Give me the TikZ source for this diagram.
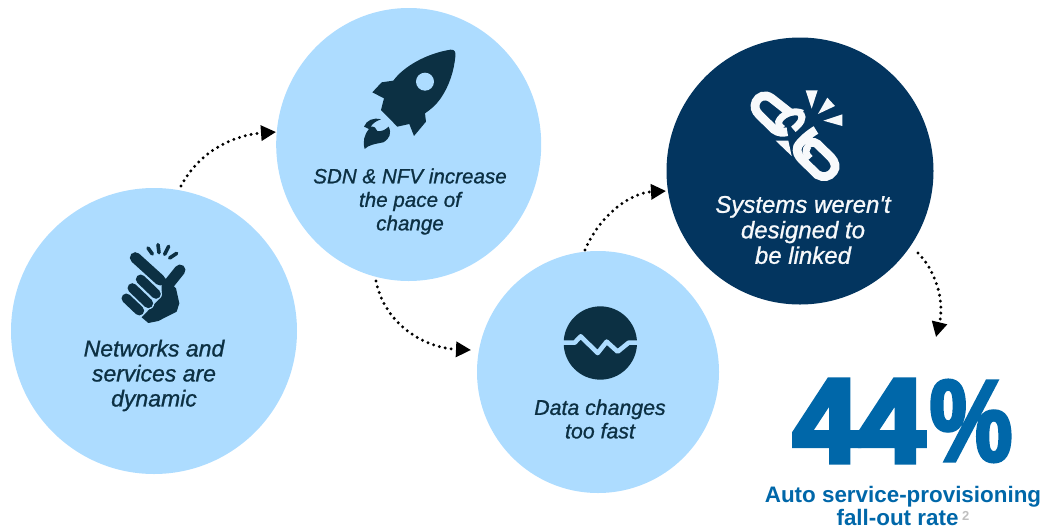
\documentclass[tikz,border=0pt]{standalone}
\usepackage{fontspec}
\setmainfont{Liberation Sans}
\newfontfamily\bigfont[FakeBold=5]{Liberation Sans Bold}
\newfontfamily\pctfont[FakeBold=3,FakeStretch=0.8]{Liberation Sans Bold}
\newfontfamily\capfont[FakeBold=1]{Liberation Sans Italic}
\usetikzlibrary{arrows.meta,shapes.geometric}
\definecolor{lightc}{HTML}{ADDCFF}
\definecolor{darkc}{HTML}{03355F}
\definecolor{inkc}{HTML}{0C3043}
\definecolor{bluec}{HTML}{0067A9}
\definecolor{whitec}{HTML}{F7F9FB}
\tikzset{
 x=1pt,y=-1pt,
 bubble/.style={circle,draw=none,inner sep=0pt,fill=lightc},
 darkbubble/.style={circle,draw=none,inner sep=0pt,fill=darkc},
 captext/.style={text=inkc,align=center},
 dotarrow/.style={line width=3.3pt,line cap=round,dash pattern=on 0pt off 6pt,black,-{Triangle[length=15pt,width=15pt,line cap=butt]}},
 icon/.style={x=0.3333pt,y=-0.3333pt},
}
\begin{document}
\begin{tikzpicture}
\useasboundingbox (0,0) rectangle (1045,531);
\node[bubble,minimum size=286pt] (c1) at (154,331) {};
\node[ellipse,draw=none,inner sep=0pt,fill=lightc,minimum width=265pt,minimum height=273pt] (c2) at (408.7,144.5) {};
\node[bubble,minimum size=242pt] (c3) at (598,372) {};
\node[darkbubble,minimum size=267pt] (c4) at (800,171) {};
% connectors
\coordinate (a1) at (181,186);
\coordinate (a2) at (276,132);
\coordinate (a3) at (376,281);
\coordinate (a4) at (471,350);
\coordinate (a5) at (585,250);
\coordinate (a6) at (666,191);
\coordinate (a7) at (918,253);
\coordinate (a8) at (936,337);
\draw[dotarrow] (a1) .. controls (200,150) and (235,135) .. (a2);
\draw[dotarrow] (a3) .. controls (385,325) and (425,348) .. (a4);
\draw[dotarrow] (a5) .. controls (600,215) and (630,193) .. (a6);
\draw[dotarrow] (a7) .. controls (935,270) and (945,300) .. (a8);
% hand
\begin{scope}[icon,shift={(80pt,-220pt)}]
\fill[inkc] (245,165) -- (288,205) -- (298,250) -- (290,275) -- (235,303) -- (205,309) -- (185,292) -- (235,240) -- (245,215) -- cycle;
\draw[inkc,line width=11pt,line cap=round] (166,113) -- (240,180);
\draw[inkc,line width=11pt,line cap=round] (300,150) -- (268,190);
\draw[lightc,line width=12pt,line cap=round] (182,178) -- (228,222);
\draw[lightc,line width=12pt,line cap=round] (157,204) -- (205,250);
\draw[lightc,line width=12pt,line cap=round] (139,235) -- (178,272);
\draw[inkc,line width=9.6pt,line cap=round] (182,178) -- (228,222);
\draw[inkc,line width=9.6pt,line cap=round] (157,204) -- (205,250);
\draw[inkc,line width=9.6pt,line cap=round] (139,235) -- (178,272);
\draw[inkc,line width=3.6pt,line cap=round] (204,84) -- (217,102);
\draw[inkc,line width=3.6pt,line cap=round] (234,74) -- (237,98);
\draw[inkc,line width=3.6pt,line cap=round] (266,79) -- (254,103);
\draw[inkc,line width=3.6pt,line cap=round] (290,100) -- (269,114);
\end{scope}
% rocket
\begin{scope}[icon,shift={(340pt,-30pt)}]
\fill[inkc] (332,59) .. controls (345,58) and (348,68) .. (346,80) .. controls (342,120) and (330,165) .. (300,208) .. controls (288,225) and (270,240) .. (255,250) -- (258,275) -- (222,318) -- (208,282) -- (172,290) -- (123,240) -- (132,205) -- (97,187) -- (125,157) -- (160,152) .. controls (190,110) and (260,70) .. (332,59) -- cycle;
\fill[lightc] (255,155) circle[radius=27];
\fill[inkc] (72,290) .. controls (80,270) and (100,262) .. (123,268) .. controls (110,272) and (98,280) .. (92,290) .. controls (102,288) and (110,295) .. (112,303) .. controls (125,305) and (135,300) .. (146,290) .. controls (155,310) and (150,325) .. (130,337) .. controls (105,342) and (85,345) .. (74,357) .. controls (68,335) and (72,315) .. (87,297) -- cycle;
\end{scope}
% wave globe
\begin{scope}[icon,shift={(550pt,-295pt)}]
\fill[inkc] (151,144) circle[radius=110];
\draw[lightc,line width=4.6pt,line join=round] (36,143) -- (74,143) -- (92,124) -- (143,174) -- (170,140) -- (203,170) -- (236,143) -- (266,143);
\end{scope}
% link
\begin{scope}[icon,shift={(730pt,-80pt)}]
\fill[whitec] (227,31) -- (263,31) -- (245,86) -- cycle;
\fill[whitec] (292,53) -- (315,78) -- (264,102) -- cycle;
\fill[whitec] (280,122) -- (337,103) -- (337,138) -- cycle;
\fill[whitec] (137,182) -- (175,182) -- (185,228) -- cycle;
\draw[whitec,line width=8.8pt,line cap=butt] (182,100) -- (125,55) .. controls (105,40) and (85,50) .. (78,65) .. controls (72,80) and (75,92) .. (88,105) -- (132,148) .. controls (145,158) and (160,158) .. (172,155);
\draw[whitec,line width=7pt] (218,100) .. controls (195,90) and (165,98) .. (150,118) .. controls (142,128) and (146,138) .. (158,146);
\draw[whitec,line width=7pt] (212,100) .. controls (222,115) and (212,130) .. (190,148);
\draw[whitec,line width=8.8pt] (258,150) .. controls (240,160) and (210,185) .. (203,200) .. controls (198,215) and (205,228) .. (215,238) -- (262,284) .. controls (280,295) and (300,290) .. (310,275) .. controls (320,262) and (315,245) .. (303,232) -- (262,192) .. controls (250,182) and (235,188) .. (228,195);
\draw[whitec,line width=7pt] (240,235) .. controls (225,222) and (225,210) .. (235,198);
\end{scope}
% captions
\node[captext,font=\capfont\fontsize{23}{25}\selectfont] (t1) at (154,375.5) {Networks and\\services are\\dynamic};
\node[captext,font=\capfont\fontsize{20.6}{23.5}\selectfont] (t2) at (410,201.5) {SDN \& NFV increase\\the pace of\\change};
\node[captext,font=\capfont\fontsize{21.3}{23.5}\selectfont] (t3) at (600,419) {Data changes\\too fast};
\node[captext,text=whitec,font=\capfont\fontsize{24}{25.5}\selectfont] (t4) at (803,230) {Systems weren't\\designed to\\be linked};
\node[inner sep=0pt,text=bluec,font=\bigfont\fontsize{118}{118}\selectfont] (big) at (859,421) {44};
\node[inner sep=0pt,text=bluec,font=\pctfont\fontsize{116}{116}\selectfont] (pct) at (971,421) {\%};
\node[inner sep=0pt,text=bluec,align=center,font=\bfseries\fontsize{22.4}{23.5}\selectfont] (lab) at (903,506) {Auto service-provisioning\\fall-out rate\,\textcolor{gray!50}{\raisebox{5pt}{\fontsize{13}{13}\selectfont 2}}};
\end{tikzpicture}
\end{document}
